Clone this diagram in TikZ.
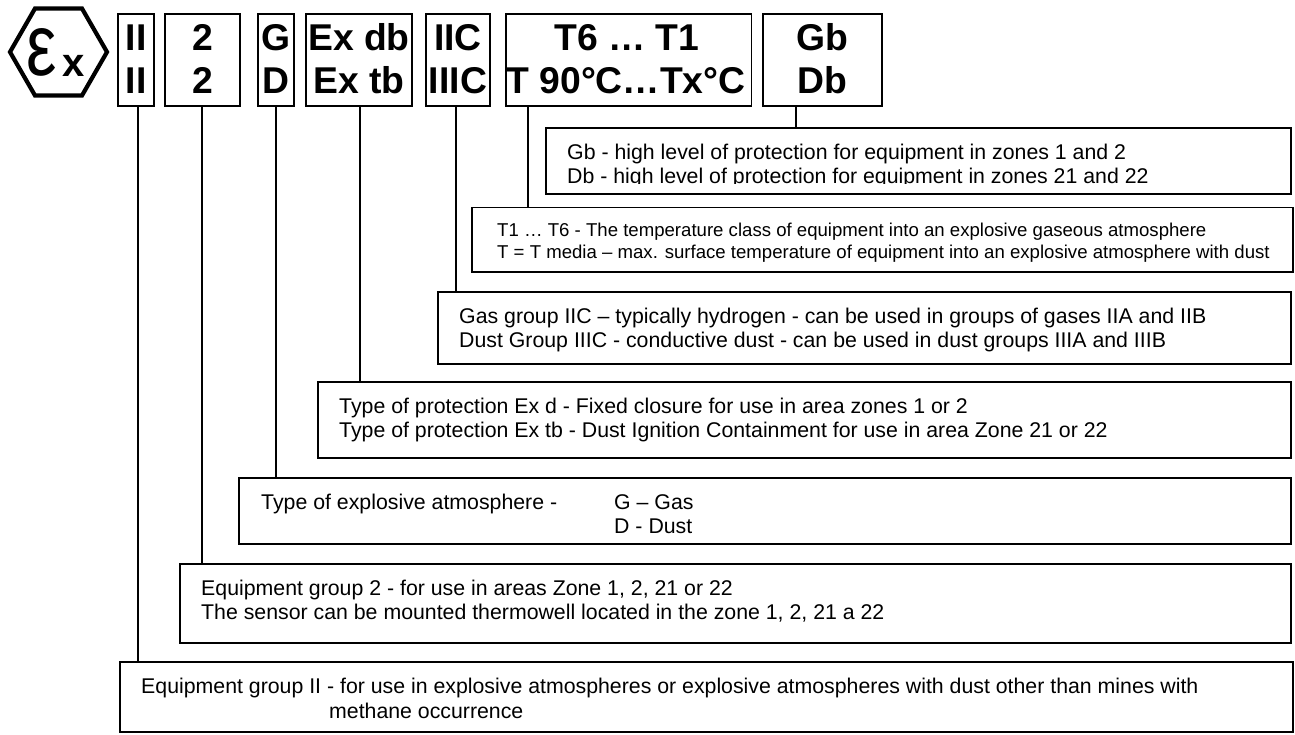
\documentclass[tikz,border=0pt]{standalone}
\usepackage{fontspec}
\setmainfont{Liberation Sans}
\tikzset{
 bx/.style={draw=black,line width=1.8pt,fill=none,inner sep=0pt,outer sep=0pt,anchor=north west,rectangle},
 conn/.style={draw=black,line width=1.8pt},
 head/.style={anchor=base,inner sep=0pt,font=\bfseries\fontsize{37.3}{37.3}\selectfont},
 txt/.style={anchor=base west,inner sep=0pt,font=\fontsize{21.3}{21.3}\selectfont},
 txts/.style={anchor=base west,inner sep=0pt,font=\fontsize{18.6}{18.6}\selectfont},
}
\newcommand{\bxn}[5]{\node[bx,minimum width={(#4-#2)*1pt},minimum height={(#5-#3)*1pt}] (#1) at (#2,#3) {};}
\begin{document}
\begin{tikzpicture}[x=1pt,y=-1pt]
\useasboundingbox (0,0) rectangle (1295,734);
% Ex mark
\draw[line width=4.2pt,line join=miter] (10,52) -- (35,8.5) -- (82,8.5) -- (107,52) -- (82,95.5) -- (35,95.5) -- cycle;
\node[anchor=base,inner sep=0pt,font=\fontsize{74}{74}\selectfont] (exa) at (42,75.5) {\scalebox{.92}[1.18]{ε}};
\node[anchor=base,inner sep=0pt,font=\bfseries\fontsize{40}{40}\selectfont] (exb) at (73.5,76) {x};
% header boxes
\bxn{bII}{118}{14}{154}{106}
\bxn{bTwo}{165}{14}{240}{106}
\bxn{bG}{258}{14}{294}{106}
\bxn{bEx}{306}{14}{412}{106}
\bxn{bC}{426}{14}{490}{106}
\bxn{bT}{506}{14}{751.5}{106}
\bxn{bGb}{763}{14}{882}{106}
\node[head] (hIIa) at (136,50) {II};
\node[head] (hIIb) at (136,93) {II};
\node[head] (hTa) at (202.5,50) {2};
\node[head] (hTb) at (202.5,93) {2};
\node[head] (hGa) at (276,50) {G};
\node[head] (hGb) at (276,93) {D};
\node[head] (hEa) at (359,50) {Ex db};
\node[head] (hEb) at (359,93) {Ex tb};
\node[head] (hCa) at (458,50) {IIC};
\node[head] (hCb) at (458,93) {IIIC};
\node[head] (hTTa) at (627,50) {T6 … T1};
\node[head] (hTTb) at (626,93) {T 90°C…Tx°C};
\node[head] (hGGa) at (822.5,50) {Gb};
\node[head] (hGGb) at (822.5,93) {Db};
% description boxes
\bxn{dGb}{546}{128}{1291}{194}
\bxn{dT}{472}{207.5}{1293}{272}
\bxn{dC}{438}{292}{1291}{364}
\bxn{dEx}{318}{382}{1291}{458}
\bxn{dG}{239}{478}{1291}{544}
\bxn{dTwo}{180}{564}{1291}{643}
\bxn{dII}{120}{662}{1293}{732}
% connectors
\coordinate (cII) at (138,0);
\coordinate (cTwo) at (202,0);
\coordinate (cG) at (276,0);
\coordinate (cEx) at (360,0);
\coordinate (cC) at (456,0);
\coordinate (cT) at (528,0);
\coordinate (cGb) at (796,0);
\draw[conn] (cII |- bII.south) -- (cII |- dII.north);
\draw[conn] (cTwo |- bTwo.south) -- (cTwo |- dTwo.north);
\draw[conn] (cG |- bG.south) -- (cG |- dG.north);
\draw[conn] (cEx |- bEx.south) -- (cEx |- dEx.north);
\draw[conn] (cC |- bC.south) -- (cC |- dC.north);
\draw[conn] (cT |- bT.south) -- (cT |- dT.north);
\draw[conn] (cGb |- bGb.south) -- (cGb |- dGb.north);
% texts
\node[txt] (t1) at (567,159) {Gb - high level of protection for equipment in zones 1 and 2};
\begin{scope}
\clip (560,165) rectangle (1280,183.5);
\node[txt] (t2) at (567,183) {Db - high level of protection for equipment in zones 21 and 22};
\end{scope}
\node[txts] (t3) at (497,236) {T1 … T6 - The temperature class of equipment into an explosive gaseous atmosphere};
\node[txts] (t4) at (497,258) {T = T media – max. surface temperature of equipment into an explosive atmosphere with dust};
\node[txt] (t5) at (459,323) {Gas group IIC – typically hydrogen - can be used in groups of gases IIA and IIB};
\node[txt] (t6) at (459,347) {Dust Group IIIC - conductive dust - can be used in dust groups IIIA and IIIB};
\node[txt] (t7) at (339,413) {Type of protection Ex d - Fixed closure for use in area zones 1 or 2};
\node[txt] (t8) at (339,437) {Type of protection Ex tb - Dust Ignition Containment for use in area Zone 21 or 22};
\node[txt] (t9) at (261,509) {Type of explosive atmosphere -};
\node[txt] (t10) at (614,509) {G – Gas};
\node[txt] (t11) at (614,533) {D - Dust};
\node[txt] (t12) at (201,595) {Equipment group 2 - for use in areas Zone 1, 2, 21 or 22};
\node[txt] (t13) at (201,619) {The sensor can be mounted thermowell located in the zone 1, 2, 21 a 22};
\node[txt] (t14) at (141,693) {Equipment group II - for use in explosive atmospheres or explosive atmospheres with dust other than mines with};
\node[txt] (t15) at (329,718) {methane occurrence};
\end{tikzpicture}
\end{document}
